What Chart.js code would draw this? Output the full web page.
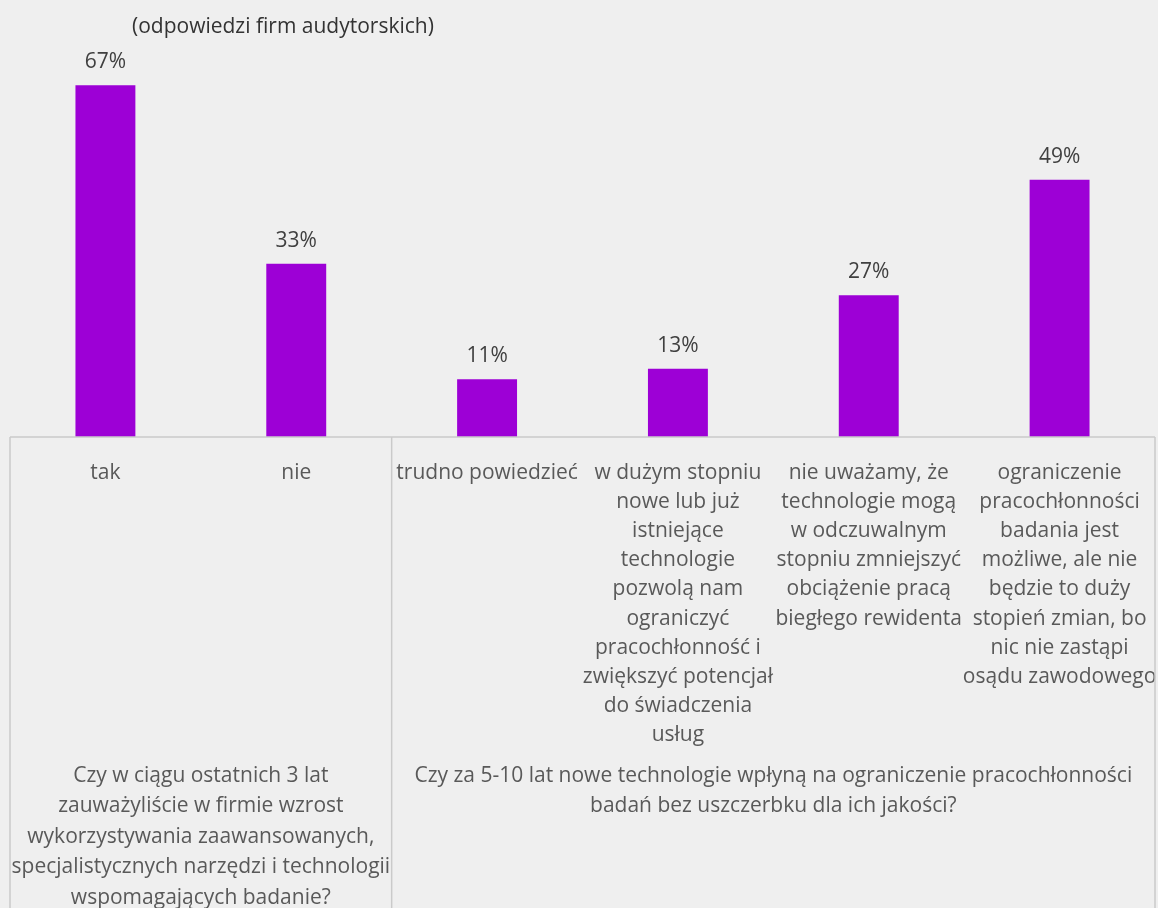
<!DOCTYPE html>
<html>
<head>
<meta charset="utf-8">
<script src="https://cdn.jsdelivr.net/npm/chart.js@4/dist/chart.umd.min.js"></script>
<style>
html,body{margin:0;padding:0;background:#efefef;}
canvas{display:block;}
</style>
</head>
<body>
<canvas id="c" width="1158" height="908"></canvas>
<script>
// ---- data ----
const titleText = '(odpowiedzi firm audytorskich)';
const categories = [
  ['tak'],
  ['nie'],
  ['trudno powiedzieć'],
  ['w dużym stopniu', 'nowe lub już', 'istniejące', 'technologie', 'pozwolą nam', 'ograniczyć', 'pracochłonność i', 'zwiększyć potencjał', 'do świadczenia', 'usług'],
  ['nie uważamy, że', 'technologie mogą', 'w odczuwalnym', 'stopniu zmniejszyć', 'obciążenie pracą', 'biegłego rewidenta'],
  ['ograniczenie', 'pracochłonności', 'badania jest', 'możliwe, ale nie', 'będzie to duży', 'stopień zmian, bo', 'nic nie zastąpi', 'osądu zawodowego']
];
const shareValues = [0.67, 0.33, 0.11, 0.13, 0.27, 0.49];
const groupLabels = [
  ['Czy w ciągu ostatnich 3 lat', 'zauważyliście w firmie wzrost', 'wykorzystywania zaawansowanych,', 'specjalistycznych narzędzi i technologii', 'wspomagających badanie?'],
  ['Czy za 5-10 lat nowe technologie wpłyną na ograniczenie pracochłonności', 'badań bez uszczerbku dla ich jakości?']
];
const groupSizes = [2, 4];

const FONT = '"Open Sans", "Noto Sans", sans-serif';

const bgPlugin = {
  id: 'bg',
  beforeDraw(chart) {
    const ctx = chart.ctx;
    ctx.save();
    ctx.fillStyle = '#efefef';
    ctx.fillRect(0, 0, chart.width, chart.height);
    ctx.restore();
  }
};

const decorPlugin = {
  id: 'decor',
  afterDraw(chart) {
    const ctx = chart.ctx;
    const xs = chart.scales.x;
    const area = chart.chartArea;
    const half = (xs.getPixelForValue(1) - xs.getPixelForValue(0)) / 2;
    ctx.save();
    // title
    ctx.font = '21px ' + FONT;
    ctx.fillStyle = '#333333';
    ctx.textAlign = 'left';
    ctx.textBaseline = 'middle';
    ctx.fillText(titleText, 132, 27);

    // data labels
    const meta = chart.getDatasetMeta(0);
    ctx.font = '21px ' + FONT;
    ctx.fillStyle = '#404040';
    ctx.textAlign = 'center';
    meta.data.forEach((bar, i) => {
      ctx.fillText(Math.round(shareValues[i] * 100) + '%', bar.x, bar.y - 23);
    });

    // frame lines
    ctx.strokeStyle = '#cacaca';
    ctx.lineWidth = 1.5;
    const base = area.bottom;
    let idx = 0;
    const bounds = [area.left];
    groupSizes.forEach(n => {
      idx += n;
      bounds.push(xs.getPixelForValue(idx - 1) + half);
    });
    ctx.beginPath();
    ctx.moveTo(bounds[0], base);
    ctx.lineTo(bounds[bounds.length - 1], base);
    bounds.forEach(b => {
      ctx.moveTo(b, base);
      ctx.lineTo(b, chart.height);
    });
    ctx.stroke();

    // group labels
    ctx.font = '21px ' + FONT;
    ctx.fillStyle = '#595959';
    ctx.textAlign = 'center';
    groupLabels.forEach((lines, g) => {
      const cx = (bounds[g] + bounds[g + 1]) / 2;
      lines.forEach((ln, k) => {
        ctx.fillText(ln, cx, 776 + k * 30.5);
      });
    });
    ctx.restore();
  }
};

new Chart(document.getElementById('c'), {
  type: 'bar',
  data: {
    labels: categories,
    datasets: [{
      data: shareValues,
      backgroundColor: '#9d00d6',
      borderWidth: 0,
      categoryPercentage: 1,
      barPercentage: 0.314
    }]
  },
  options: {
    responsive: false,
    animation: false,
    layout: { padding: { left: 10, right: 3, top: 17, bottom: 0 } },
    plugins: { legend: { display: false }, tooltip: { enabled: false }, title: { display: false } },
    scales: {
      y: { display: false, min: 0, max: 0.8 },
      x: {
        grid: { display: false, drawTicks: false },
        border: { display: false },
        ticks: {
          autoSkip: false,
          maxRotation: 0,
          minRotation: 0,
          padding: 21,
          color: '#595959',
          font: { family: FONT, size: 21, lineHeight: 1.39 }
        },
        afterFit(scale) {
          scale.height = 471;
          scale.paddingLeft = 0;
          scale.paddingRight = 0;
        }
      }
    }
  },
  plugins: [bgPlugin, decorPlugin]
});
</script>
</body>
</html>
